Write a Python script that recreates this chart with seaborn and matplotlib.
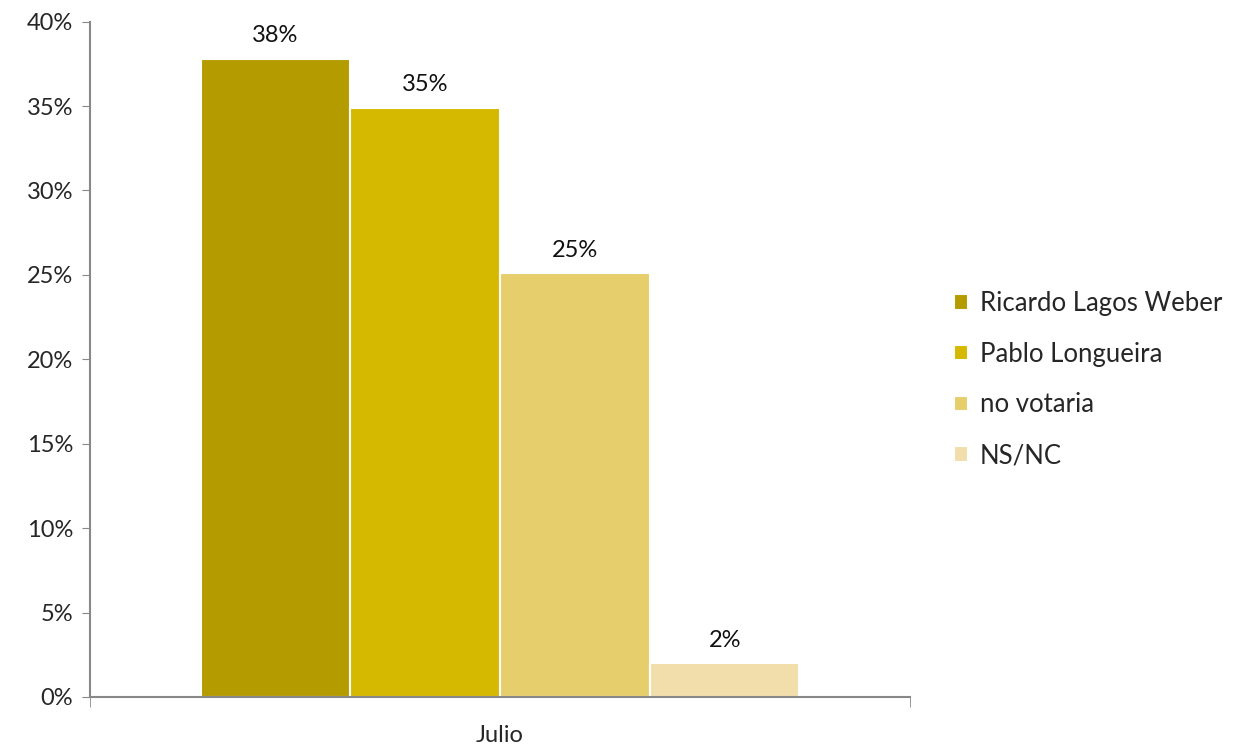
import pandas as pd
import seaborn as sns
import matplotlib.pyplot as plt

# Datos de la encuesta
mes = ["Julio"]
candidatos = ["Ricardo Lagos Weber", "Pablo Longueira", "no votaria", "NS/NC"]
valores = [37.8, 34.9, 25.1, 2.0]
etiquetas = ["38%", "35%", "25%", "2%"]
colores = ["#B39B00", "#D5B800", "#E7CE6C", "#F1DEAB"]

df = pd.DataFrame({"mes": mes * len(candidatos), "candidato": candidatos, "valor": valores})

sns.set_style("white")
plt.rcParams['font.family'] = ['Lato', 'DejaVu Sans']

fig = plt.figure(figsize=(12.6, 7.47), dpi=100)
ax = fig.add_axes([0.0714, 0.067, 0.651, 0.904])

sns.barplot(data=df, x="mes", y="valor", hue="candidato", palette=colores,
            saturation=1, width=0.73, edgecolor="white", linewidth=1.5, ax=ax)

for cont, lab in zip(ax.containers, etiquetas):
    ax.bar_label(cont, labels=[lab], padding=9, fontsize=17, color="#111111")

ax.set_ylim(0, 40)
ax.set_xlim(-0.5, 0.5)
ax.set_yticks(range(0, 41, 5))
ax.set_yticklabels([f"{v}%" for v in range(0, 41, 5)], fontsize=17)
ax.tick_params(axis="y", direction="out", length=6, color="#888888", left=True, pad=6)
ax.tick_params(axis="x", length=0, labelsize=17, pad=20)
ax.set_xticks([-0.5, 0.5], minor=True)
ax.tick_params(axis="x", which="minor", direction="out", length=7, color="#888888", bottom=True)
ax.set_xlabel("")
ax.set_ylabel("")

for s in ["top", "right"]:
    ax.spines[s].set_visible(False)
for s in ["left", "bottom"]:
    ax.spines[s].set_color("#888888")
    ax.spines[s].set_linewidth(1.5)

ax.legend(loc="center left", bbox_to_anchor=(1.025, 0.47), frameon=False, fontsize=18.5,
          handlelength=0.55, handleheight=0.55, handletextpad=0.45, labelspacing=1.0)

plt.savefig("out.png")
